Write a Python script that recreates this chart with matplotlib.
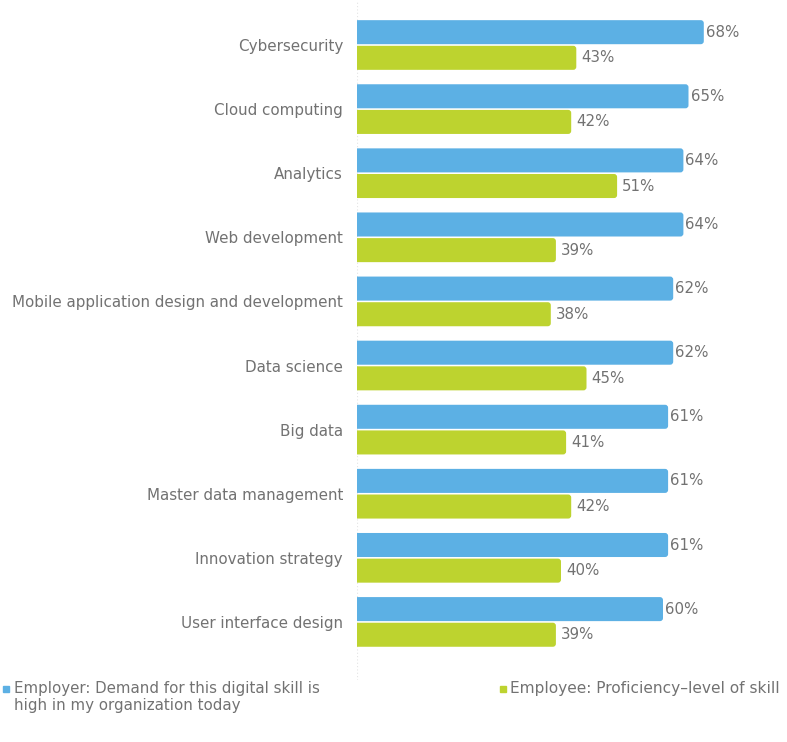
import matplotlib.pyplot as plt
from matplotlib.patches import PathPatch
from matplotlib.path import Path
import numpy as np

skills = ["Cybersecurity", "Cloud computing", "Analytics", "Web development",
          "Mobile application design and development", "Data science",
          "Big data", "Master data management", "Innovation strategy",
          "User interface design"]
employer = [68, 65, 64, 64, 62, 62, 61, 61, 61, 60]
employee = [43, 42, 51, 39, 38, 45, 41, 42, 40, 39]

blue = "#5cb0e4"
green = "#bdd32f"
grey = "#727272"

plt.rcParams['font.family'] = ['DejaVu Sans']

fig = plt.figure(figsize=(7.87, 7.42), dpi=100)
ax = fig.add_axes([357 / 787, 1 - 680 / 742, 430 / 787, 680 / 742])

y = np.arange(len(skills))
h = 0.375
off = 0.2
b1 = ax.barh(y - off, employer, height=h, color=blue)
b2 = ax.barh(y + off, employee, height=h, color=green)


def right_rounded(x0, y0, w, hh, rx, ry):
    # bar outline with the two right-hand corners rounded
    x1, y1 = x0 + w, y0 + hh
    verts = [(x0, y0), (x1 - rx, y0), (x1, y0), (x1, y0 + ry),
             (x1, y1 - ry), (x1, y1), (x1 - rx, y1), (x0, y1), (x0, y0)]
    codes = [Path.MOVETO, Path.LINETO, Path.CURVE3, Path.CURVE3,
             Path.LINETO, Path.CURVE3, Path.CURVE3, Path.LINETO, Path.CLOSEPOLY]
    return Path(verts, codes)


# swap each bar for a version with rounded ends (about 3 px radius)
rx, ry = 3 / 5.1, 3 / 64.1
for bars in (b1, b2):
    for p in bars:
        c = p.get_facecolor()
        p.set_visible(False)
        path = right_rounded(p.get_x(), p.get_y(), p.get_width(), p.get_height(), rx, ry)
        ax.add_patch(PathPatch(path, fc=c, ec="none", lw=0))

for yi, v in zip(y - off, employer):
    ax.text(v + 0.4, yi, f"{v}%", va="center", ha="left", fontsize=10.8, color=grey)
for yi, v in zip(y + off, employee):
    ax.text(v + 1.0, yi, f"{v}%", va="center", ha="left", fontsize=10.8, color=grey)

ax.set_xlim(0, 430 / 5.1)
ax.set_ylim(9.906, -0.702)
ax.set_yticks(y)
ax.set_yticklabels(skills, fontsize=10.9, color=grey)
ax.tick_params(axis="y", length=0, pad=10)
ax.set_xticks([])
for s in ax.spines.values():
    s.set_visible(False)
ax.axvline(0, color="#e4e4e4", lw=0.8, ls=(0, (1, 2)), zorder=0)

# legend along the bottom
fig.patches.append(plt.Rectangle((3 / 787, 1 - 692 / 742), 6 / 787, 6 / 742,
                                 transform=fig.transFigure, color=blue))
fig.text(14 / 787, 1 - 697 / 742,
         "Employer: Demand for this digital skill is\nhigh in my organization today",
         fontsize=10.8, color=grey, va="center", ha="left", linespacing=1.15)
fig.patches.append(plt.Rectangle((500 / 787, 1 - 692 / 742), 6 / 787, 6 / 742,
                                 transform=fig.transFigure, color=green))
fig.text(510 / 787, 1 - 689 / 742, "Employee: Proficiency\u2013level of skill",
         fontsize=11.1, color=grey, va="center", ha="left")

fig.savefig("out.png", dpi=100)
